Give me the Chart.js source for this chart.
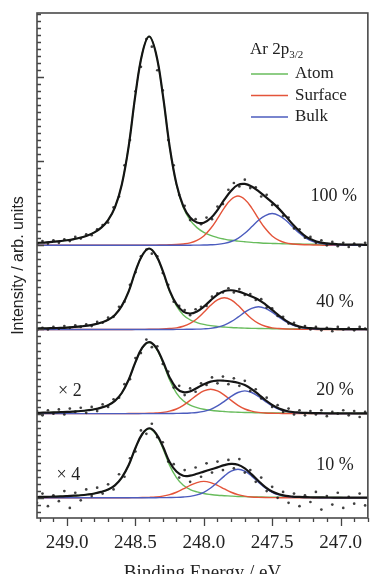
<!DOCTYPE html>
<html><head><meta charset="utf-8">
<script src="https://cdn.jsdelivr.net/npm/chart.js@4.4.1/dist/chart.umd.min.js"></script>
<style>html,body{margin:0;padding:0;background:#fff}#wrap{width:376px;height:574px;position:relative}</style>
</head><body><div id="wrap"><canvas id="c" width="376" height="574"></canvas></div>
<script>
// Binding energy grid for fitted curves (eV)
const energy = [249.25,249.20,249.15,249.10,249.05,249.00,248.95,248.90,248.85,248.80,
248.75,248.70,248.65,248.60,248.55,248.50,248.45,248.40,248.35,248.30,
248.25,248.20,248.15,248.10,248.05,248.00,247.95,247.90,247.85,247.80,
247.75,247.70,247.65,247.60,247.55,247.50,247.45,247.40,247.35,247.30,
247.25,247.20,247.15,247.10,247.05,247.00,246.95,246.90,246.85,246.80];
// Binding energies of measured points (eV)
const dotEnergy = [249.22,249.18,249.14,249.10,249.06,249.02,248.98,248.94,248.90,248.86,
248.82,248.78,248.74,248.70,248.66,248.62,248.58,248.54,248.50,248.46,
248.42,248.38,248.34,248.30,248.26,248.22,248.18,248.14,248.10,248.06,
248.02,247.98,247.94,247.90,247.86,247.82,247.78,247.74,247.70,247.66,
247.62,247.58,247.54,247.50,247.46,247.42,247.38,247.34,247.30,247.26,
247.22,247.18,247.14,247.10,247.06,247.02,246.98,246.94,246.90,246.86,246.82];
const xTicks = [249.0, 248.5, 248.0, 247.5, 247.0];

// 100 %
const atom100 = [0.025,0.03,0.035,0.042,0.05,0.06,0.074,0.092,0.117,0.154,0.21,0.30,0.45,0.72,1.17,1.79,2.28,
2.48,
2.28,1.79,1.17,0.72,0.45,0.30,0.21,0.154,0.117,0.092,0.074,0.06,0.05,0.042,0.035,0.03,0.025,0.022,0.02,0.017,0.015,0.015,0.012,0.012,0.01,0.01,0.01,0.007,0.007,0.007,0.007,0.005];
const surf100 = [0,0,0,0,0,0,0,0,0,0,0,0,0,0,0,0,0,
0.001,0.002,0.004,0.006,0.009,0.016,0.029,0.059,0.111,0.199,0.316,0.445,0.544,0.585,0.544,0.445,0.316,0.199,0.111,0.059,0.029,0.016,0.009,0.006,0.004,0.002,0.001,
0,0,0,0,0,0];
const bulk100 = [0,0,0,0,0,0,0,0,0,0,0,0,0,0,0,0,0,0,0,0,0,0,0,
0.001,0.002,0.003,0.006,0.011,0.023,0.045,0.083,0.143,0.219,0.298,0.354,0.377,0.354,0.298,0.219,0.143,0.083,0.045,0.023,0.011,0.006,0.003,0.002,0.001,
0,0];
const dots100 = [0.01,0.05,0.02,0.06,0.03,0.07,0.05,0.10,0.08,0.13,0.12,0.19,0.24,0.27,0.45,0.58,0.95,1.25,1.83,2.12,
2.45,2.36,2.08,1.84,1.25,0.95,0.60,0.47,0.30,0.31,0.25,0.33,0.31,0.46,0.49,0.66,0.74,0.70,0.78,0.68,
0.69,0.58,0.60,0.48,0.47,0.35,0.33,0.20,0.19,0.09,0.10,0.03,0.06,0.00,0.04,-0.01,0.03,-0.02,0.02,-0.01,0.03];

// 40 %
const atom40 = [0.01,0.012,0.013,0.016,0.019,0.023,0.029,0.036,0.045,0.06,0.082,0.115,0.173,0.28,0.45,0.69,0.88,
0.96,
0.88,0.69,0.45,0.28,0.173,0.115,0.082,0.06,0.045,0.036,0.029,0.023,0.019,0.016,0.013,0.012,0.01,0.009,0.008,0.007,0.006,0.006,0.005,0.005,0.004,0.004,0.004,0.003,0.003,0.003,0.003,0.002];
const surf40 = [0,0,0,0,0,0,0,0,0,0,0,0,0,0,0,
0.001,0.0015,0.002,0.004,0.006,0.011,0.019,0.038,0.072,0.128,0.204,0.287,0.351,0.377,0.351,0.287,0.204,0.128,0.072,0.038,0.019,0.011,0.006,0.004,0.002,0.0015,0.001,
0,0,0,0,0,0,0,0];
const bulk40 = [0,0,0,0,0,0,0,0,0,0,0,0,0,0,0,0,0,0,0,0,0,
0.001,0.0016,0.0027,0.0043,0.0076,0.0135,0.027,0.051,0.092,0.146,0.205,0.251,0.27,0.251,0.205,0.146,0.092,0.051,0.027,0.0135,0.0076,0.0043,0.0027,0.0016,0.001,
0,0,0,0];
const dots40 = [-0.01,0.02,0.00,0.03,0.01,0.04,0.02,0.05,0.03,0.06,0.04,0.09,0.08,0.14,0.15,0.27,0.33,0.53,0.68,0.87,
0.95,0.90,0.87,0.67,0.53,0.33,0.28,0.23,0.17,0.24,0.27,0.28,0.39,0.43,0.44,0.49,0.44,0.48,0.41,0.42,
0.35,0.36,0.26,0.25,0.16,0.15,0.07,0.08,0.02,0.04,0.00,0.03,-0.01,0.02,-0.02,0.03,0.00,0.02,-0.01,0.03,0.01];

// 20 %
const atom20 = [0.008,0.01,0.012,0.014,0.017,0.02,0.025,0.031,0.04,0.052,0.072,0.10,0.152,0.245,0.40,0.61,0.78,
0.845,
0.78,0.61,0.40,0.245,0.152,0.10,0.072,0.052,0.04,0.031,0.025,0.02,0.017,0.014,0.012,0.01,0.008,0.008,0.007,0.006,0.005,0.005,0.004,0.004,0.004,0.003,0.003,0.003,0.003,0.002,0.002,0.002];
const surf20 = [0,0,0,0,0,0,0,0,0,0,0,0,0,0,
0.001,0.0017,0.003,0.0046,0.008,0.0145,0.029,0.055,0.099,0.157,0.22,0.27,0.29,0.27,0.22,0.157,0.099,0.055,0.029,0.0145,0.008,0.0046,0.003,0.0017,0.001,
0,0,0,0,0,0,0,0,0,0,0];
const bulk20 = [0,0,0,0,0,0,0,0,0,0,0,0,0,0,0,0,0,0,0,
0.001,0.0016,0.0027,0.0043,0.0076,0.0135,0.027,0.051,0.092,0.146,0.205,0.251,0.27,0.251,0.205,0.146,0.092,0.051,0.027,0.0135,0.0076,0.0043,0.0027,0.0016,0.001,
0,0,0,0,0,0];
const dots20 = [0.03,-0.02,0.04,0.00,0.05,-0.01,0.06,0.02,0.07,0.01,0.08,0.03,0.11,0.08,0.17,0.19,0.35,0.41,0.66,0.72,
0.88,0.79,0.80,0.59,0.50,0.31,0.33,0.22,0.30,0.26,0.36,0.34,0.43,0.36,0.44,0.35,0.42,0.33,0.39,0.27,
0.29,0.18,0.19,0.08,0.10,0.02,0.06,-0.01,0.04,-0.02,0.03,-0.01,0.04,-0.03,0.02,0.00,0.04,-0.02,0.03,-0.04,0.02];

// 10 %
const atom10 = [0.008,0.01,0.011,0.014,0.016,0.02,0.025,0.03,0.039,0.051,0.07,0.098,0.148,0.24,0.385,0.59,0.755,
0.82,
0.755,0.59,0.385,0.24,0.148,0.098,0.07,0.051,0.039,0.03,0.025,0.02,0.016,0.014,0.011,0.01,0.008,0.007,0.007,0.006,0.005,0.005,0.004,0.004,0.003,0.003,0.003,0.003,0.002,0.002,0.002,0.002];
const surf10 = [0,0,0,0,0,0,0,0,0,0,0,0,0,0,
0.001,0.002,0.003,0.0055,0.01,0.0195,0.037,0.066,0.105,0.148,0.181,0.195,0.181,0.148,0.105,0.066,0.037,0.0195,0.01,0.0055,0.003,0.002,0.001,
0,0,0,0,0,0,0,0,0,0,0,0,0];
const bulk10 = [0,0,0,0,0,0,0,0,0,0,0,0,0,0,0,0,0,
0.0007,0.0014,0.002,0.0034,0.0054,0.0095,0.017,0.034,0.065,0.116,0.184,0.258,0.316,0.34,0.316,0.258,0.184,0.116,0.065,0.034,0.017,0.0095,0.0054,0.0034,0.002,0.0014,0.0007,
0,0,0,0,0,0];
const dots10 = [-0.06,0.05,-0.10,0.03,-0.04,0.08,-0.12,0.06,-0.03,0.10,0.02,0.12,0.05,0.16,0.10,0.28,0.25,0.47,0.55,0.80,
0.76,0.88,0.72,0.66,0.43,0.40,0.24,0.33,0.19,0.36,0.25,0.41,0.30,0.43,0.33,0.45,0.35,0.46,0.30,0.33,
0.19,0.24,0.08,0.13,0.00,0.07,-0.06,0.05,-0.10,0.03,-0.05,0.07,-0.14,0.02,-0.08,0.06,-0.12,0.01,-0.07,0.05,-0.09];

const coverage = ['100 %', '40 %', '20 %', '10 %'];
const offsets = [3, 2, 1, 0];
const factors = ['', '', '\u00d7 2', '\u00d7 4'];
const atoms = [atom100, atom40, atom20, atom10];
const surfs = [surf100, surf40, surf20, surf10];
const bulks = [bulk100, bulk40, bulk20, bulk10];
const dots = [dots100, dots40, dots20, dots10];
// label anchor positions (eV, intensity)
const coverageLabelPos = [[247.05, 3.58], [247.04, 2.32], [247.04, 1.28], [247.04, 0.39]];
const factorLabelPos = [null, null, [248.98, 1.27], [248.99, 0.27]];
const legendNames = ['Atom', 'Surface', 'Bulk'];

const GREEN = 'rgb(104,188,92)', RED = 'rgb(228,84,58)', BLUE = 'rgb(76,92,190)';
const legendColors = [GREEN, RED, BLUE];
const SERIF = "'Liberation Serif', 'Times New Roman', serif";
const SANS = "'Liberation Sans', Arial, sans-serif";
const TXT = '#222';

const datasets = [];
for (let s = 0; s < 4; s++) {
  const off = offsets[s];
  const mk = arr => energy.map((e, i) => ({x: e, y: off + arr[i]}));
  datasets.push({data: mk(atoms[s]), borderColor: GREEN, borderWidth: 1.4, order: 5});
  datasets.push({data: mk(surfs[s]), borderColor: RED, borderWidth: 1.4, order: 4});
  datasets.push({data: mk(bulks[s]), borderColor: BLUE, borderWidth: 1.4, order: 3});
  datasets.push({data: dotEnergy.map((e, i) => ({x: e, y: off + dots[s][i]})), showLine: false,
    pointRadius: 1.35, pointBackgroundColor: 'rgba(30,30,30,0.85)', pointBorderWidth: 0, order: 2});
  datasets.push({data: energy.map((e, i) => ({x: e, y: off + atoms[s][i] + surfs[s][i] + bulks[s][i]})),
    borderColor: '#151515', borderWidth: 2.2, order: 1});
}

const decor = {
  id: 'decor',
  afterDraw(chart) {
    const ctx = chart.ctx, a = chart.chartArea, xs = chart.scales.x, ys = chart.scales.y;
    ctx.save();
    // ticks
    ctx.strokeStyle = '#444'; ctx.lineWidth = 1.3;
    ctx.beginPath();
    for (let k = 2468; k <= 2492; k++) {
      const px = Math.round(xs.getPixelForValue(k / 10)) + 0.5;
      const len = (k % 5 === 0) ? 8 : 4;
      ctx.moveTo(px, a.bottom); ctx.lineTo(px, a.bottom + len);
    }
    for (let k = -2; k <= 69; k++) {
      const v = k / 12;
      if (v < ys.min || v > ys.max) continue;
      const py = Math.round(ys.getPixelForValue(v)) + 0.5;
      const len = (k % 12 === 0) ? 7 : 4;
      ctx.moveTo(a.left, py); ctx.lineTo(a.left + len, py);
    }
    ctx.stroke();
    // frame
    ctx.strokeStyle = '#4a4a4a'; ctx.lineWidth = 1.6;
    ctx.strokeRect(a.left, a.top, a.right - a.left, a.bottom - a.top);
    // legend
    ctx.fillStyle = TXT; ctx.textBaseline = 'middle'; ctx.textAlign = 'left';
    ctx.font = '17px ' + SERIF;
    const lx = a.left + 213, ly = a.top + 37;
    ctx.fillText('Ar 2p', lx, ly);
    const w = ctx.measureText('Ar 2p').width;
    ctx.font = '11px ' + SERIF;
    ctx.fillText('3/2', lx + w, ly + 5);
    for (let i = 0; i < 3; i++) {
      const yy = a.top + 61 + i * 21.5;
      ctx.strokeStyle = legendColors[i]; ctx.lineWidth = 1.6;
      ctx.beginPath(); ctx.moveTo(lx + 1, yy); ctx.lineTo(lx + 38, yy); ctx.stroke();
      ctx.font = '17px ' + SERIF; ctx.fillStyle = TXT;
      ctx.fillText(legendNames[i], lx + 45, yy);
    }
    // coverage + factor labels
    ctx.textAlign = 'center'; ctx.font = '18px ' + SERIF; ctx.fillStyle = TXT;
    for (let s = 0; s < 4; s++) {
      const p = coverageLabelPos[s];
      ctx.fillText(coverage[s], xs.getPixelForValue(p[0]), ys.getPixelForValue(p[1]));
      const f = factorLabelPos[s];
      if (f) ctx.fillText(factors[s], xs.getPixelForValue(f[0]), ys.getPixelForValue(f[1]));
    }
    ctx.restore();
  }
};

new Chart(document.getElementById('c'), {
  type: 'line',
  data: {datasets},
  options: {
    responsive: false, animation: false, devicePixelRatio: 1,
    layout: {padding: {top: 13, right: 0, left: 0, bottom: 0}},
    elements: {point: {radius: 0, hoverRadius: 0}, line: {tension: 0.4, fill: false}},
    plugins: {legend: {display: false}, tooltip: {enabled: false}},
    scales: {
      x: {
        type: 'linear', reverse: true, min: 246.8, max: 249.22,
        grid: {display: false, drawTicks: false}, border: {display: false},
        afterBuildTicks: s => { s.ticks = xTicks.map(v => ({value: v})); },
        afterFit: s => { s.height = 56; },
        ticks: {color: TXT, font: {family: SERIF, size: 19}, padding: 14, maxRotation: 0, autoSkip: false,
          callback: v => Number(v).toFixed(1)},
        title: {display: true, text: 'Binding Energy / eV', color: TXT, font: {family: SERIF, size: 19}, padding: {top: 0, bottom: -10}}
      },
      y: {
        type: 'linear', min: -0.24, max: 5.76,
        grid: {display: false, drawTicks: false}, border: {display: false},
        ticks: {display: false},
        afterFit: s => { s.width = 37; },
        title: {display: true, text: 'Intensity / arb. units', color: TXT, font: {family: SANS, size: 16}, padding: {top: 9, bottom: 0}}
      }
    }
  },
  plugins: [decor]
});
</script>
</body></html>
